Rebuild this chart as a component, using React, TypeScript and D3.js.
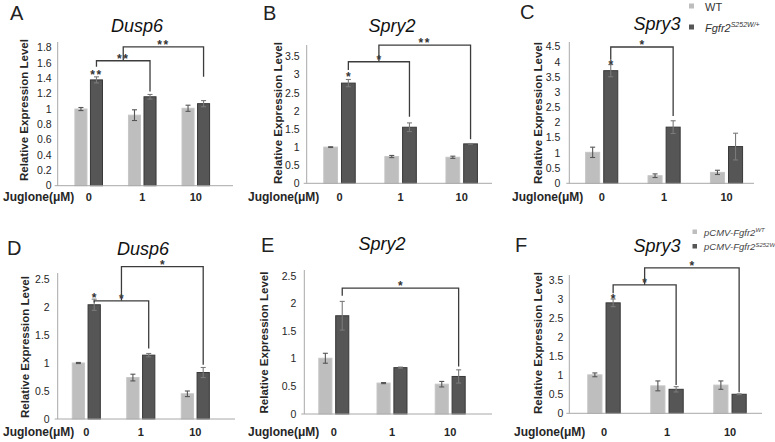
import React from "react";
import * as d3 from "d3";

const FONT = "'Liberation Sans', Arial, Helvetica, sans-serif";

// ---------- data ----------
const categories = ["0", "1", "10"];
const seriesKeys = ["wt", "mut"];

// A: Dusp6 (mouse)
const aWT = [1.0, 0.92, 1.01];
const aWTErr = [0.02, 0.07, 0.04];
const aMut = [1.38, 1.16, 1.07];
const aMutErr = [0.04, 0.03, 0.04];
// B: Spry2 (mouse)
const bWT = [1.0, 0.74, 0.72];
const bWTErr = [0.01, 0.03, 0.03];
const bMut = [2.77, 1.55, 1.09];
const bMutErr = [0.1, 0.12, 0.01];
// C: Spry3 (mouse)
const cWT = [1.02, 0.25, 0.36];
const cWTErr = [0.17, 0.06, 0.07];
const cMut = [3.71, 1.85, 1.21];
const cMutErr = [0.2, 0.21, 0.44];
// D: Dusp6 (pCMV)
const dWT = [1.0, 0.74, 0.45];
const dWTErr = [0.01, 0.06, 0.05];
const dMut = [2.04, 1.14, 0.83];
const dMutErr = [0.1, 0.03, 0.09];
// E: Spry2 (pCMV)
const eWT = [1.01, 0.56, 0.54];
const eWTErr = [0.09, 0.01, 0.05];
const eMut = [1.78, 0.84, 0.68];
const eMutErr = [0.26, 0.01, 0.12];
// F: Spry3 (pCMV)
const fWT = [1.01, 0.72, 0.74];
const fWTErr = [0.05, 0.13, 0.11];
const fMut = [2.9, 0.63, 0.5];
const fMutErr = [0.1, 0.07, 0.01];

const panelLetters = ["A", "B", "C", "D", "E", "F"];
const geneTitles = ["Dusp6", "Spry2", "Spry3", "Dusp6", "Spry2", "Spry3"];
const yMaxes = [1.8, 3.5, 4.5, 2.5, 2.5, 3.5];
const yStepsArr = [0.2, 0.5, 0.5, 0.5, 0.5, 0.5];
const yTitle = "Relative Expression Level";
const xTitle = "Juglone(μM)";

// significance brackets (from: category or pair of categories -> midpoint of an existing bracket)
type Bracket = { from: string | [string, string]; to: string; level: number; leftEnd: number; rightEnd: number; label: string };
const aBrackets: Bracket[] = [
  { from: "0", to: "1", level: 1.63, leftEnd: 1.55, rightEnd: 1.23, label: "**" },
  { from: ["0", "1"], to: "10", level: 1.81, leftEnd: 1.63, rightEnd: 1.42, label: "**" },
];
const bBrackets: Bracket[] = [
  { from: "0", to: "1", level: 3.36, leftEnd: 3.13, rightEnd: 1.84, label: "*" },
  { from: ["0", "1"], to: "10", level: 3.82, leftEnd: 3.36, rightEnd: 1.22, label: "**" },
];
const cBrackets: Bracket[] = [
  { from: "0", to: "1", level: 4.49, leftEnd: 4.07, rightEnd: 2.22, label: "*" },
];
const dBrackets: Bracket[] = [
  { from: "0", to: "1", level: 2.11, leftEnd: 2.08, rightEnd: 1.26, label: "*" },
  { from: ["0", "1"], to: "10", level: 2.72, leftEnd: 2.11, rightEnd: 0.97, label: "*" },
];
const eBrackets: Bracket[] = [
  { from: "0", to: "10", level: 2.28, leftEnd: 2.14, rightEnd: 0.86, label: "*" },
];
const fBrackets: Bracket[] = [
  { from: "0", to: "1", level: 3.37, leftEnd: 3.15, rightEnd: 0.74, label: "*" },
  { from: ["0", "1"], to: "10", level: 3.82, leftEnd: 3.37, rightEnd: 0.55, label: "*" },
];
const barStars = [
  { cat: "0", y: 1.48, label: "**" },
  { cat: "0", y: 3.01, label: "*" },
  { cat: "0", y: 3.98, label: "*" },
  { cat: "0", y: 2.2, label: "*" },
  null,
  { cat: "0", y: 3.08, label: "*" },
];

// ---------- layout (pixel geometry per panel) ----------
const layouts = [
  { axisX: 57.7, yBase: 185.7, yTopPx: 47.7, axisTop: 42, xEnd: 233, c0: 88.7, c2: 195.8, titleX: 137, titleY: 32, letterX: 10, letterY: 19.5, ylabX: 24, ylabY: 110, jugX: 3, rowY: 201, tickGap: 6 },
  { axisX: 306.7, yBase: 183.3, yTopPx: 56.7, axisTop: 45, xEnd: 492, c0: 339.5, c2: 461.7, titleX: 392, titleY: 32, letterX: 263, letterY: 19.5, ylabX: 278, ylabY: 113, jugX: 248, rowY: 201, tickGap: 7 },
  { axisX: 569.3, yBase: 183.3, yTopPx: 46.7, axisTop: 42, xEnd: 754, c0: 601.7, c2: 726.5, titleX: 657, titleY: 30, letterX: 520, letterY: 19, ylabX: 538, ylabY: 113, jugX: 512, rowY: 201, tickGap: 9 },
  { axisX: 57.7, yBase: 419, yTopPx: 279, axisTop: 273, xEnd: 235, c0: 86.3, c2: 195.3, titleX: 143, titleY: 255, letterX: 7, letterY: 255, ylabX: 25, ylabY: 347, jugX: 3, rowY: 436, tickGap: 8 },
  { axisX: 304.3, yBase: 414, yTopPx: 276, axisTop: 270, xEnd: 492, c0: 333.8, c2: 450.2, titleX: 382, titleY: 250, letterX: 261, letterY: 252, ylabX: 264, ylabY: 342.5, jugX: 248, rowY: 436, tickGap: 8 },
  { axisX: 569.3, yBase: 413.3, yTopPx: 280, axisTop: 275, xEnd: 762, c0: 604, c2: 730, titleX: 657, titleY: 252, letterX: 515, letterY: 252, ylabX: 538, ylabY: 343, jugX: 514, rowY: 436, tickGap: 6 },
];

const panelsData = [
  { wt: aWT, wtErr: aWTErr, mut: aMut, mutErr: aMutErr, brackets: aBrackets },
  { wt: bWT, wtErr: bWTErr, mut: bMut, mutErr: bMutErr, brackets: bBrackets },
  { wt: cWT, wtErr: cWTErr, mut: cMut, mutErr: cMutErr, brackets: cBrackets },
  { wt: dWT, wtErr: dWTErr, mut: dMut, mutErr: dMutErr, brackets: dBrackets },
  { wt: eWT, wtErr: eWTErr, mut: eMut, mutErr: eMutErr, brackets: eBrackets },
  { wt: fWT, wtErr: fWTErr, mut: fMut, mutErr: fMutErr, brackets: fBrackets },
];

const COLORS = {
  wt: "#bebebe",
  wtStroke: "#c6c6c6",
  mut: "#565656",
  mutStroke: "#383838",
  wtErr: "#555555",
  mutErr: "#7a7a7a",
  axis: "#a8a8a8",
  bracket: "#3c3c3c",
  text: "#262626",
};

function Star({ x, y, label }: { x: number; y: number; label: string }) {
  // y is the visual centre of the asterisk
  const fs = 12;
  return (
    <text x={x} y={y + fs * 0.55} textAnchor="middle" fontFamily={FONT} fontWeight="bold" fontSize={fs} fill="#333" letterSpacing={label.length > 1 ? 1.5 : 0}>
      {label}
    </text>
  );
}

function Panel({ idx }: { idx: number }) {
  const L = layouts[idx];
  const D = panelsData[idx];
  const yMax = yMaxes[idx];
  const step = yStepsArr[idx];
  const y = d3.scaleLinear().domain([0, yMax]).range([L.yBase, L.yTopPx]);
  const xg = d3.scalePoint<string>().domain(categories).range([L.c0, L.c2]);
  const s = (L.c2 - L.c0) / 2;
  const xs = d3.scaleBand<string>().domain(seriesKeys).range([-0.2575 * s, 0.2575 * s]).paddingInner(0.224);
  const bw = xs.bandwidth();
  const cx = (cat: string, ser: string) => (xg(cat) as number) + (xs(ser) as number) + bw / 2;
  const ticks = d3.range(0, yMax + 1e-9, step);
  const fmt = (v: number) => String(+v.toFixed(1));

  const bars: any[] = [];
  const errs: any[] = [];
  categories.forEach((cat, i) => {
    seriesKeys.forEach((ser) => {
      const v = ser === "wt" ? D.wt[i] : D.mut[i];
      const e = ser === "wt" ? D.wtErr[i] : D.mutErr[i];
      const c = cx(cat, ser);
      bars.push(
        <rect key={`b${cat}${ser}`} x={c - bw / 2} y={y(v)} width={bw} height={y(0) - y(v)}
          fill={ser === "wt" ? COLORS.wt : COLORS.mut} stroke={ser === "wt" ? COLORS.wtStroke : COLORS.mutStroke} strokeWidth={1} />
      );
      const col = ser === "wt" ? COLORS.wtErr : COLORS.mutErr;
      const capW = 2.5;
      errs.push(
        <g key={`e${cat}${ser}`} stroke={col} strokeWidth={1.1}>
          <line x1={c} x2={c} y1={y(v + e)} y2={y(Math.max(0, v - e))} />
          <line x1={c - capW} x2={c + capW} y1={y(v + e)} y2={y(v + e)} />
          <line x1={c - capW} x2={c + capW} y1={y(Math.max(0, v - e))} y2={y(Math.max(0, v - e))} />
        </g>
      );
    });
  });

  // brackets
  const bracketEls: any[] = [];
  const mids: Record<string, number> = {};
  D.brackets.forEach((b, i) => {
    const xl = Array.isArray(b.from) ? mids[b.from.join("-")] : cx(b.from, "mut");
    const xr = cx(b.to, "mut");
    const key = (Array.isArray(b.from) ? b.from[0] : b.from) + "-" + b.to;
    const mid = (xl + xr) / 2;
    mids[key] = mid;
    const yl = y(b.level);
    bracketEls.push(
      <g key={`br${i}`}>
        <path d={`M${xl},${y(b.leftEnd)}V${yl}H${xr}V${y(b.rightEnd)}`} fill="none" stroke={COLORS.bracket} strokeWidth={1.3} />
        <Star x={mid} y={yl - 4.5} label={b.label} />
      </g>
    );
  });
  const bs = barStars[idx];

  return (
    <g>
      <text x={L.letterX} y={L.letterY} fontFamily={FONT} fontSize={20} fill="#222">{panelLetters[idx]}</text>
      <text x={L.titleX} y={L.titleY} textAnchor="middle" fontFamily={FONT} fontStyle="italic" fontSize={18} fill="#111">{geneTitles[idx]}</text>
      <text transform={`translate(${L.ylabX},${L.ylabY}) rotate(-90)`} textAnchor="middle" dominantBaseline="central"
        fontFamily={FONT} fontWeight="bold" fontSize={11.5} fill={COLORS.text}>{yTitle}</text>
      {ticks.map((t) => (
        <text key={`t${t}`} x={L.axisX - L.tickGap} y={y(t)} dy="0.35em" textAnchor="end" fontFamily={FONT} fontSize={10.5} fill={COLORS.text}>{fmt(t)}</text>
      ))}
      {bars}
      {errs}
      <line x1={L.axisX} x2={L.axisX} y1={L.axisTop} y2={L.yBase} stroke={COLORS.axis} strokeWidth={1} />
      <line x1={L.axisX - 3} x2={L.xEnd} y1={L.yBase} y2={L.yBase} stroke={COLORS.axis} strokeWidth={1} />
      {bracketEls}
      {bs && <Star x={cx(bs.cat, "mut")} y={y(bs.y)} label={bs.label} />}
      <text x={L.jugX} y={L.rowY} fontFamily={FONT} fontWeight="bold" fontSize={12} fill={COLORS.text}>{xTitle}</text>
      {categories.map((c) => (
        <text key={`x${c}`} x={xg(c)} y={L.rowY} textAnchor="middle" fontFamily={FONT} fontWeight="bold" fontSize={11} fill={COLORS.text}>{c}</text>
      ))}
    </g>
  );
}

function Legends() {
  return (
    <g fontFamily={FONT}>
      <rect x={689} y={3.5} width={5} height={5} fill={COLORS.wt} />
      <text x={705} y={10.5} fontSize={11} fill="#333">WT</text>
      <rect x={689} y={24.5} width={5} height={5} fill={COLORS.mut} />
      <text x={705} y={31.5} fontSize={11} fontStyle="italic" fill="#333">
        Fgfr2<tspan fontSize={7} dy={-4.5}>S252W/+</tspan>
      </text>
      <rect x={692.5} y={229.5} width={4.5} height={4.5} fill={COLORS.wt} />
      <text x={704} y={235.5} fontSize={9.5} fontStyle="italic" fill="#444">
        pCMV-Fgfr2<tspan fontSize={6} dy={-3.5}>WT</tspan>
      </text>
      <rect x={692.5} y={244} width={4.5} height={4.5} fill={COLORS.mut} />
      <text x={704} y={250} fontSize={9.5} fontStyle="italic" fill="#444">
        pCMV-Fgfr2<tspan fontSize={6} dy={-3.5}>S252W</tspan>
      </text>
    </g>
  );
}

export default function App() {
  return (
    <svg width={775} height={442} viewBox="0 0 775 442" style={{ position: "absolute", left: 0, top: 0, background: "#fff" }}>
      <rect width={775} height={442} fill="#fff" />
      {layouts.map((_, i) => (
        <Panel key={i} idx={i} />
      ))}
      <Legends />
    </svg>
  );
}
